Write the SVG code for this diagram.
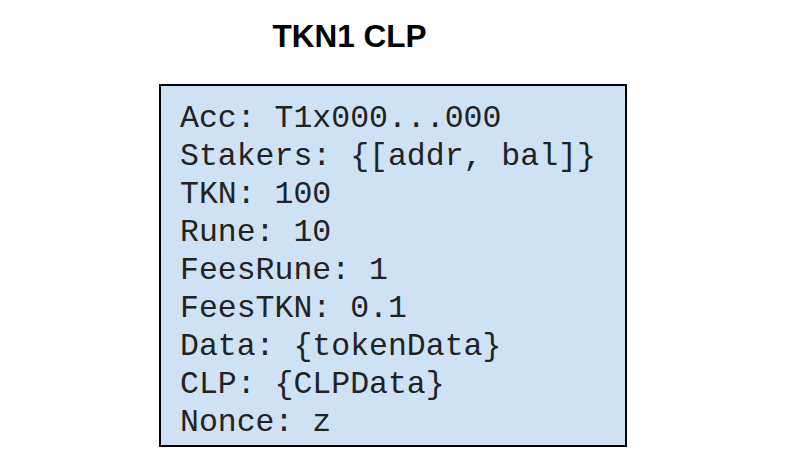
<svg xmlns="http://www.w3.org/2000/svg" width="786" height="476" viewBox="0 0 786 476">
<style>
.title{font-family:"Liberation Sans",Arial,sans-serif;font-weight:bold;font-size:31.5px;fill:#000}
.mono{font-family:"Liberation Mono","Courier New",monospace;font-size:31.5px;fill:#222}
</style>
<rect width="786" height="476" fill="#fff"/>
<g id="title"><text class="title" x="349.5" y="47" text-anchor="middle">TKN1 CLP</text></g>
<g id="clp-node">
<rect x="160" y="85" width="466" height="361" fill="#cfe2f3" stroke="#000" stroke-width="2"/>
<text class="mono" x="180">
<tspan x="180" y="127">Acc: T1x000...000</tspan>
<tspan x="180" y="165">Stakers: {[addr, bal]}</tspan>
<tspan x="180" y="203">TKN: 100</tspan>
<tspan x="180" y="241">Rune: 10</tspan>
<tspan x="180" y="279">FeesRune: 1</tspan>
<tspan x="180" y="317">FeesTKN: 0.1</tspan>
<tspan x="180" y="355">Data: {tokenData}</tspan>
<tspan x="180" y="393">CLP: {CLPData}</tspan>
<tspan x="180" y="431">Nonce: z</tspan>
</text>
</g>
<g id="connectors"></g>
</svg>
